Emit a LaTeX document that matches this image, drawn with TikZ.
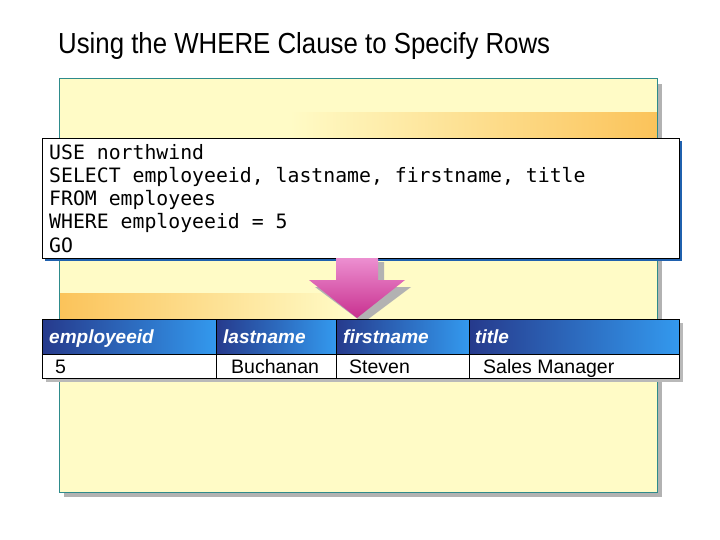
\documentclass[tikz,border=0pt]{standalone}
\usepackage{fontspec}
\setmainfont{Liberation Sans}
\setmonofont{DejaVu Sans Mono}
\begin{document}
\begin{tikzpicture}[x=1pt,y=-1pt,
  hdr/.style={anchor=base west,inner sep=0pt,text=white,font=\itshape\bfseries\fontsize{19}{22}\selectfont},
  cell/.style={anchor=base west,inner sep=0pt,font=\fontsize{19.5}{22}\selectfont},
  code/.style={anchor=base west,inner sep=0pt,font=\ttfamily\fontsize{19.8}{23}\selectfont}]
\definecolor{teal1}{HTML}{2E8B8B}
\definecolor{panel}{HTML}{FFFBC6}
\definecolor{orng}{HTML}{FBC35A}
\definecolor{navy}{HTML}{263A8C}
\definecolor{lblue}{HTML}{3399EE}
\definecolor{pinkt}{HTML}{EC8FD0}
\definecolor{pinkb}{HTML}{C8308F}
\useasboundingbox (0,0) rectangle (720,540);
\fill[white] (0,0) rectangle (720,540);
\node[anchor=base west,inner sep=0pt,font=\fontsize{29}{32}\selectfont,xscale=0.89] (title) at (58,54) {Using the WHERE Clause to Specify Rows};
% panel
\fill[gray!60] (64,84) rectangle (662,497);
\fill[panel] (59,79) rectangle (657,492);
\shade[left color=panel,right color=orng] (290,113) rectangle (657,138);
\shade[left color=orng,right color=panel] (59,293) rectangle (350,318);
\draw[teal1,line width=1pt] (59,79) rectangle (657,492);
% code box
\fill[teal1!70!blue] (45,141) rectangle (682,261);
\node[draw=black,fill=white,minimum width=637,minimum height=120,anchor=north west,inner sep=0pt] (box) at (42,138) {};
\node[code] (l1) at (49,160) {USE northwind};
\node[code] (l2) at (49,183) {SELECT employeeid, lastname, firstname, title};
\node[code] (l3) at (49,206) {FROM employees};
\node[code] (l4) at (49,229) {WHERE employeeid = 5};
\node[code] (l5) at (49,252) {GO};
% arrow
\fill[gray!60] (342,262) -- (384,262) -- (384,287) -- (411,287) -- (363,323) -- (315,287) -- (342,287) -- cycle;
\shade[top color=pinkt,bottom color=pinkb] (336,258) -- (378,258) -- (378,280) -- (405,280) -- (357,318) -- (309,280) -- (336,280) -- cycle;
\node[inner sep=0pt] (tip) at (357,318) {};
% table
\fill[gray!55] (46,323) rectangle (683,382);
\foreach \a/\b in {42/216,216/336,336/469,469/679}{
  \shade[left color=navy,right color=lblue] (\a,319) rectangle (\b,354);
  \fill[white] (\a,354) rectangle (\b,378);
  \draw[black] (\a,319) rectangle (\b,378);
}
\draw[black] (42,354) -- (679,354);
\node[hdr] (h1) at (49,343) {employeeid};
\node[hdr] (h2) at (223,343) {lastname};
\node[hdr] (h3) at (343,343) {firstname};
\node[hdr] (h4) at (475,343) {title};
\node[cell] (c1) at (55,373) {5};
\node[cell] (c2) at (231,373) {Buchanan};
\node[cell] (c3) at (349,373) {Steven};
\node[cell] (c4) at (483,373) {Sales Manager};
\end{tikzpicture}
\end{document}
